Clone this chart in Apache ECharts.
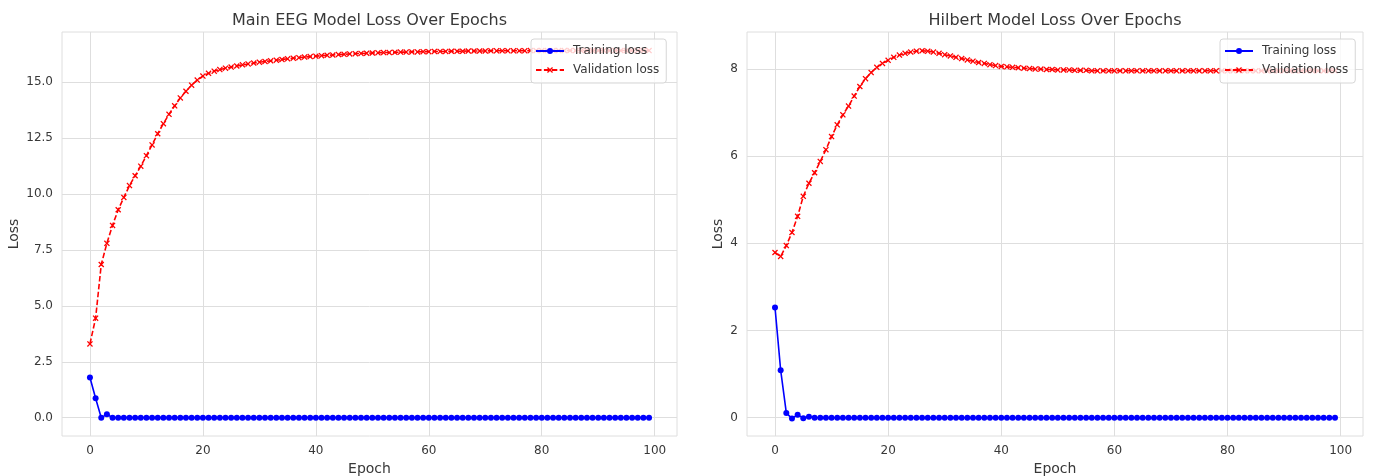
<!DOCTYPE html>
<html>
<head>
<meta charset="utf-8">
<script src="https://cdn.jsdelivr.net/npm/echarts@6/dist/echarts.min.js"></script>
<style>
html,body{margin:0;padding:0;background:#fff;}
#chart{width:1375px;height:476px;}
</style>
</head>
<body>
<div id="chart"></div>
<script>
// ---------- data ----------
const epochs = Array.from({length: 100}, (_, i) => i);

const mainTrainLoss = [
  1.80, 0.87, 0.00, 0.15, 0.00, 0.00, 0.00, 0.00, 0.00, 0.00,
  0.00, 0.00, 0.00, 0.00, 0.00, 0.00, 0.00, 0.00, 0.00, 0.00,
  0.00, 0.00, 0.00, 0.00, 0.00, 0.00, 0.00, 0.00, 0.00, 0.00,
  0.00, 0.00, 0.00, 0.00, 0.00, 0.00, 0.00, 0.00, 0.00, 0.00,
  0.00, 0.00, 0.00, 0.00, 0.00, 0.00, 0.00, 0.00, 0.00, 0.00,
  0.00, 0.00, 0.00, 0.00, 0.00, 0.00, 0.00, 0.00, 0.00, 0.00,
  0.00, 0.00, 0.00, 0.00, 0.00, 0.00, 0.00, 0.00, 0.00, 0.00,
  0.00, 0.00, 0.00, 0.00, 0.00, 0.00, 0.00, 0.00, 0.00, 0.00,
  0.00, 0.00, 0.00, 0.00, 0.00, 0.00, 0.00, 0.00, 0.00, 0.00,
  0.00, 0.00, 0.00, 0.00, 0.00, 0.00, 0.00, 0.00, 0.00, 0.00
];
const mainValLoss = [
  3.30, 4.45, 6.85, 7.80, 8.60, 9.30, 9.85, 10.38, 10.82, 11.25,
  11.72, 12.20, 12.70, 13.15, 13.57, 13.95, 14.30, 14.60, 14.87, 15.10,
  15.28, 15.40, 15.50, 15.57, 15.63, 15.68, 15.73, 15.78, 15.82, 15.86,
  15.90, 15.93, 15.96, 15.99, 16.02, 16.05, 16.08, 16.10, 16.13, 16.15,
  16.17, 16.19, 16.21, 16.22, 16.24, 16.25, 16.27, 16.28, 16.29, 16.30,
  16.31, 16.32, 16.33, 16.33, 16.34, 16.35, 16.35, 16.36, 16.36, 16.37,
  16.37, 16.38, 16.38, 16.38, 16.39, 16.39, 16.39, 16.40, 16.40, 16.40,
  16.40, 16.41, 16.41, 16.41, 16.41, 16.41, 16.41, 16.41, 16.42, 16.42,
  16.42, 16.42, 16.42, 16.42, 16.42, 16.42, 16.42, 16.42, 16.42, 16.42,
  16.42, 16.42, 16.42, 16.42, 16.42, 16.42, 16.42, 16.42, 16.42, 16.42
];

const hilbertTrainLoss = [
  2.53, 1.09, 0.11, -0.02, 0.07, -0.01, 0.02, 0.00, 0.00, 0.00,
  0.00, 0.00, 0.00, 0.00, 0.00, 0.00, 0.00, 0.00, 0.00, 0.00,
  0.00, 0.00, 0.00, 0.00, 0.00, 0.00, 0.00, 0.00, 0.00, 0.00,
  0.00, 0.00, 0.00, 0.00, 0.00, 0.00, 0.00, 0.00, 0.00, 0.00,
  0.00, 0.00, 0.00, 0.00, 0.00, 0.00, 0.00, 0.00, 0.00, 0.00,
  0.00, 0.00, 0.00, 0.00, 0.00, 0.00, 0.00, 0.00, 0.00, 0.00,
  0.00, 0.00, 0.00, 0.00, 0.00, 0.00, 0.00, 0.00, 0.00, 0.00,
  0.00, 0.00, 0.00, 0.00, 0.00, 0.00, 0.00, 0.00, 0.00, 0.00,
  0.00, 0.00, 0.00, 0.00, 0.00, 0.00, 0.00, 0.00, 0.00, 0.00,
  0.00, 0.00, 0.00, 0.00, 0.00, 0.00, 0.00, 0.00, 0.00, 0.00
];
const hilbertValLoss = [
  3.79, 3.70, 3.95, 4.25, 4.62, 5.08, 5.38, 5.62, 5.88, 6.15,
  6.45, 6.72, 6.95, 7.15, 7.38, 7.60, 7.78, 7.92, 8.04, 8.13,
  8.20, 8.27, 8.32, 8.36, 8.39, 8.41, 8.42, 8.41, 8.39, 8.36,
  8.33, 8.30, 8.27, 8.24, 8.21, 8.18, 8.15, 8.13, 8.10, 8.08,
  8.06, 8.05, 8.04, 8.03, 8.02, 8.01, 8.00, 8.00, 7.99, 7.99,
  7.98, 7.98, 7.98, 7.97, 7.97, 7.97, 7.96, 7.96, 7.96, 7.96,
  7.96, 7.96, 7.96, 7.96, 7.96, 7.96, 7.96, 7.96, 7.96, 7.96,
  7.96, 7.96, 7.96, 7.96, 7.96, 7.96, 7.96, 7.96, 7.96, 7.96,
  7.96, 7.96, 7.96, 7.96, 7.96, 7.96, 7.96, 7.96, 7.96, 7.96,
  7.96, 7.96, 7.96, 7.96, 7.96, 7.96, 7.96, 7.96, 7.96, 7.96
];

const xTicks = [0, 20, 40, 60, 80, 100];
const mainYTicks = [0, 2.5, 5, 7.5, 10, 12.5, 15];
const hilbertYTicks = [0, 2, 4, 6, 8];

const titles = ['Main EEG Model Loss Over Epochs', 'Hilbert Model Loss Over Epochs'];
const seriesNames = ['Training loss', 'Validation loss'];
const xName = 'Epoch';
const yName = 'Loss';

// ---------- chart ----------
const FONT = 'DejaVu Sans';
const TXT = '#383838';
const GRIDC = '#dedede';
const X_SYMBOL = 'path://M1.5,0L5,3.5L8.5,0L10,1.5L6.5,5L10,8.5L8.5,10L5,6.5L1.5,10L0,8.5L3.5,5L0,1.5Z';

const pairs = (ys) => epochs.map((e, i) => [e, ys[i]]);

function xAxis(gridIndex) {
  return {
    type: 'value', gridIndex, min: -4.95, max: 103.95,
    name: xName, nameLocation: 'middle', nameGap: 23,
    nameTextStyle: {fontFamily: FONT, fontSize: 14, color: TXT},
    axisLine: {show: false}, axisTick: {show: false, customValues: xTicks},
    axisLabel: {customValues: xTicks, fontFamily: FONT, fontSize: 12, color: TXT, margin: 9},
    splitLine: {show: true, lineStyle: {color: GRIDC, width: 1}}
  };
}
function yAxis(gridIndex, ticks, min, max, fmt, gap) {
  return {
    type: 'value', gridIndex, min, max,
    name: yName, nameLocation: 'middle', nameGap: gap,
    nameTextStyle: {fontFamily: FONT, fontSize: 14, color: TXT},
    axisLine: {show: false}, axisTick: {show: false, customValues: ticks},
    axisLabel: {customValues: ticks, fontFamily: FONT, fontSize: 12, color: TXT, margin: 9, formatter: fmt},
    splitLine: {show: true, lineStyle: {color: GRIDC, width: 1}}
  };
}
function trainSeries(idx, ys) {
  return {
    name: seriesNames[0], type: 'line', xAxisIndex: idx, yAxisIndex: idx,
    data: pairs(ys), symbol: 'circle', symbolSize: 6, showAllSymbol: true,
    lineStyle: {color: '#0000ff', width: 1.6}, itemStyle: {color: '#0000ff'},
    animation: false, z: 3
  };
}
function valSeries(idx, ys) {
  return {
    name: seriesNames[1], type: 'line', xAxisIndex: idx, yAxisIndex: idx,
    data: pairs(ys), symbol: X_SYMBOL, symbolSize: 6, showAllSymbol: true,
    lineStyle: {color: '#ff0000', width: 1.6, type: [5.5, 2.4]}, itemStyle: {color: '#ff0000'},
    animation: false, z: 2
  };
}
function legend(left) {
  return {
    left, top: 39, orient: 'vertical', data: seriesNames,
    itemWidth: 28, itemHeight: 7.5, itemGap: 5, padding: [5, 7, 6, 4],
    backgroundColor: 'rgba(255,255,255,0.8)', borderColor: '#d6d6d6', borderWidth: 1, borderRadius: 3,
    textStyle: {fontFamily: FONT, fontSize: 12, color: TXT, padding: [0, 0, 0, 4], lineHeight: 14},
    selectedMode: false, z: 5
  };
}

const chart = echarts.init(document.getElementById('chart'), null, {renderer: 'canvas'});
chart.setOption({
  backgroundColor: '#ffffff',
  animation: false,
  textStyle: {fontFamily: FONT},
  title: [
    {text: titles[0], left: 369.5, top: 13, textAlign: 'center', padding: 0,
     textStyle: {fontFamily: FONT, fontSize: 16, fontWeight: 'normal', color: TXT}},
    {text: titles[1], left: 1055, top: 13, textAlign: 'center', padding: 0,
     textStyle: {fontFamily: FONT, fontSize: 16, fontWeight: 'normal', color: TXT}}
  ],
  legend: [legend(531), legend(1220)],
  grid: [
    {left: 62, top: 32, width: 615, height: 404, show: true, borderColor: GRIDC, borderWidth: 1,
     backgroundColor: 'transparent', containLabel: false, outerBoundsMode: 'none'},
    {left: 747, top: 32, width: 616, height: 404, show: true, borderColor: GRIDC, borderWidth: 1,
     backgroundColor: 'transparent', containLabel: false, outerBoundsMode: 'none'}
  ],
  xAxis: [xAxis(0), xAxis(1)],
  yAxis: [
    yAxis(0, mainYTicks, -0.82, 17.25, v => v.toFixed(1), 41),
    yAxis(1, hilbertYTicks, -0.42, 8.85, v => String(Math.round(v)), 22)
  ],
  series: [
    trainSeries(0, mainTrainLoss), valSeries(0, mainValLoss),
    trainSeries(1, hilbertTrainLoss), valSeries(1, hilbertValLoss)
  ]
});
</script>
</body>
</html>
